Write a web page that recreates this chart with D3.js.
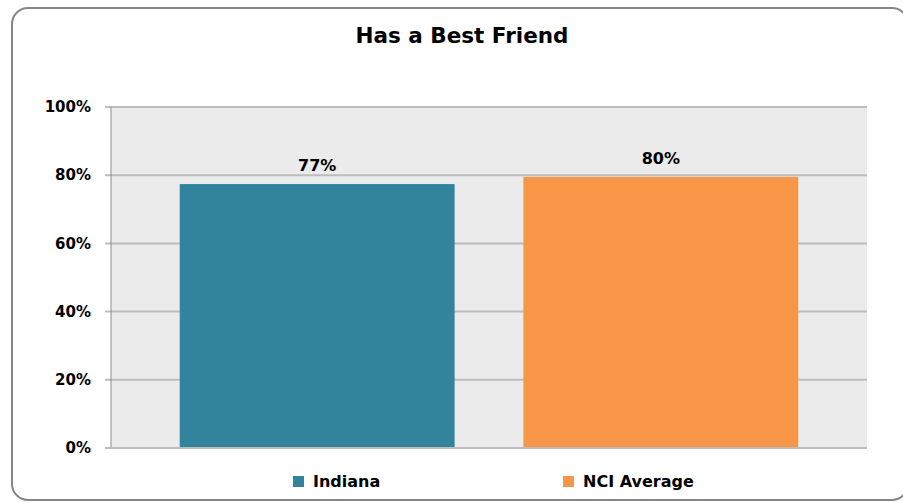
<!DOCTYPE html>
<html>
<head>
<meta charset="utf-8">
<script src="https://cdn.jsdelivr.net/npm/d3@7"></script>
<style>
  html, body { margin: 0; padding: 0; background: #fff; }
  svg { display: block; }
  text { font-family: "DejaVu Sans", Verdana, sans-serif; font-weight: 700; fill: #000; }
</style>
</head>
<body>
<svg id="chart" width="903" height="503"></svg>
<script>
const title = "Has a Best Friend";
const series = ["Indiana", "NCI Average"];
const values = [0.774, 0.795];
const valueLabels = ["77%", "80%"];
const colors = ["#31849b", "#f79646"];
const yTicks = [0, 0.2, 0.4, 0.6, 0.8, 1.0];

const svg = d3.select("#chart");
const plot = { left: 111, right: 867, top: 107, bottom: 448 };

// outer rounded border
svg.append("rect")
  .attr("x", 12).attr("y", 8)
  .attr("width", 896).attr("height", 492)
  .attr("rx", 16).attr("ry", 16)
  .attr("fill", "#fff")
  .attr("stroke", "#868686")
  .attr("stroke-width", 2);

const x = d3.scaleBand().domain(series)
  .range([plot.left, plot.right])
  .paddingInner(0.2).paddingOuter(0.2);
const y = d3.scaleLinear().domain([0, 1]).range([plot.bottom, plot.top]);

// plot background
svg.append("rect")
  .attr("x", plot.left).attr("y", plot.top)
  .attr("width", plot.right - plot.left).attr("height", plot.bottom - plot.top)
  .attr("fill", "#ebebeb");

// gridlines
svg.append("g").selectAll("line").data(yTicks).join("line")
  .attr("x1", plot.left - 6).attr("x2", plot.right)
  .attr("y1", d => y(d)).attr("y2", d => y(d))
  .attr("stroke", "#bdbdbd").attr("stroke-width", 2);

// y axis line
svg.append("line")
  .attr("x1", plot.left).attr("x2", plot.left)
  .attr("y1", plot.top).attr("y2", plot.bottom)
  .attr("stroke", "#8c8c8c").attr("stroke-width", 1);

// y tick labels
svg.append("g").selectAll("text").data(yTicks).join("text")
  .attr("x", 91).attr("y", d => y(d))
  .attr("dy", "0.35em")
  .attr("text-anchor", "end")
  .attr("font-size", 15)
  .text(d => d3.format(".0%")(d));

// bars
svg.append("g").selectAll("rect").data(series).join("rect")
  .attr("x", d => x(d))
  .attr("width", x.bandwidth())
  .attr("y", (d, i) => y(values[i]))
  .attr("height", (d, i) => y(0) - y(values[i]))
  .attr("fill", (d, i) => colors[i]);

// bottom axis line (redraw over bars)
svg.append("line")
  .attr("x1", plot.left - 6).attr("x2", plot.right)
  .attr("y1", y(0)).attr("y2", y(0))
  .attr("stroke", "#bdbdbd").attr("stroke-width", 2);

// value labels
svg.append("g").selectAll("text").data(series).join("text")
  .attr("x", d => x(d) + x.bandwidth() / 2)
  .attr("y", (d, i) => y(values[i]) - 13)
  .attr("text-anchor", "middle")
  .attr("font-size", 16)
  .text((d, i) => valueLabels[i]);

// title
svg.append("text")
  .attr("x", 462).attr("y", 43)
  .attr("text-anchor", "middle")
  .attr("font-size", 21.5)
  .text(title);

// legend
const legendX = [293, 563];
const lg = svg.append("g").selectAll("g").data(series).join("g")
  .attr("transform", (d, i) => `translate(${legendX[i]},476)`);
lg.append("rect").attr("width", 11).attr("height", 11)
  .attr("fill", (d, i) => colors[i]);
lg.append("text").attr("x", 20).attr("y", 10.5)
  .attr("font-size", 16)
  .text(d => d);
</script>
</body>
</html>
